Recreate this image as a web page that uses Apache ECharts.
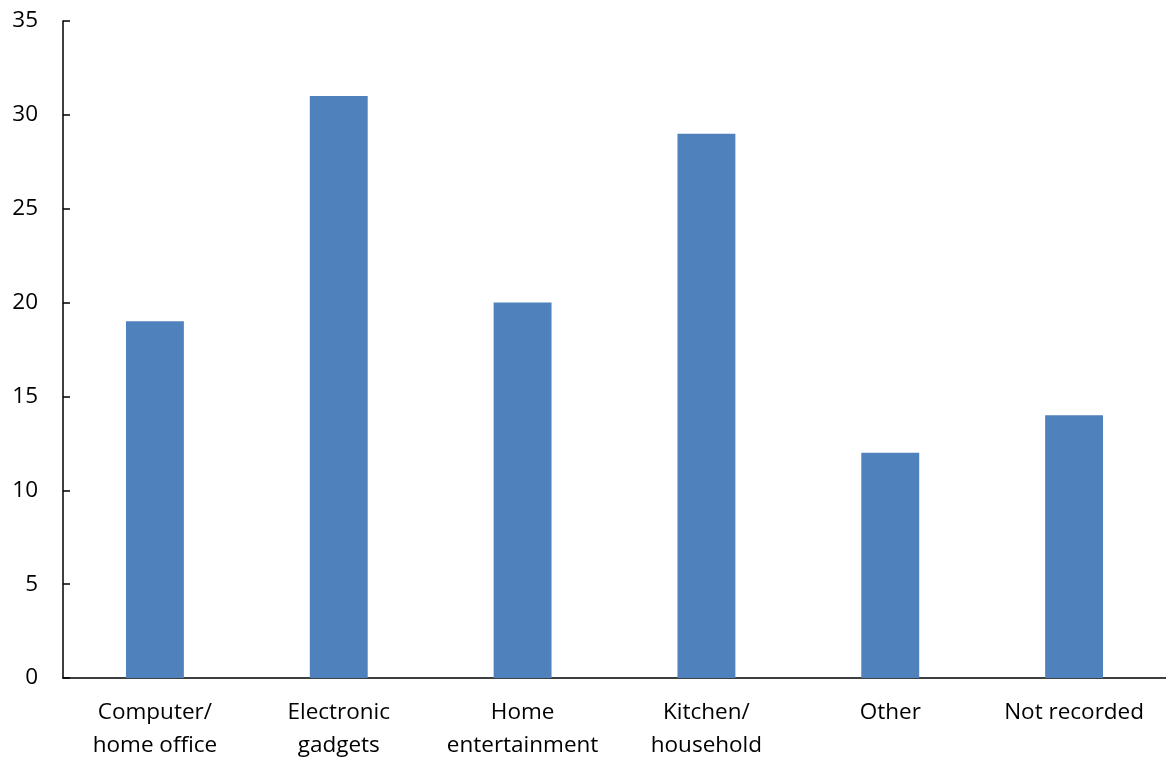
<!DOCTYPE html>
<html><head><meta charset="utf-8">
<script src="https://cdn.jsdelivr.net/npm/echarts@6/dist/echarts.min.js"></script>
<style>html,body{margin:0;padding:0;background:#fff}#c{width:1166px;height:762px}</style>
</head><body><div id="c"></div>
<script>
const categories = ["Computer/\nhome office", "Electronic\ngadgets", "Home\nentertainment", "Kitchen/\nhousehold", "Other", "Not recorded"];
const values = [19, 31, 20, 29, 12, 14];
const yTicks = [0, 5, 10, 15, 20, 25, 30, 35];
const font = "'Open Sans', 'Liberation Sans', sans-serif";
const chart = echarts.init(document.getElementById('c'));
chart.setOption({
  animation: false,
  grid: {left: 63, right: 0, top: 21, bottom: 83, containLabel: false},
  xAxis: {
    type: 'category', data: categories,
    axisLine: {lineStyle: {color: '#000', width: 1.5}},
    axisTick: {show: false},
    axisLabel: {color: '#000', fontSize: 22.5, fontFamily: font, lineHeight: 33, margin: 18, interval: 0}
  },
  yAxis: {
    type: 'value', min: yTicks[0], max: yTicks[yTicks.length - 1], interval: 5,
    axisLine: {show: true, lineStyle: {color: '#000', width: 1.5}},
    axisTick: {show: true, inside: true, length: 7, lineStyle: {color: '#000', width: 1.5}},
    splitLine: {show: false},
    axisLabel: {color: '#000', fontSize: 22.5, fontFamily: font, margin: 25}
  },
  series: [{
    type: 'bar', data: values, barWidth: '31.5%',
    itemStyle: {color: '#4F81BD'}
  }]
});
</script></body></html>
